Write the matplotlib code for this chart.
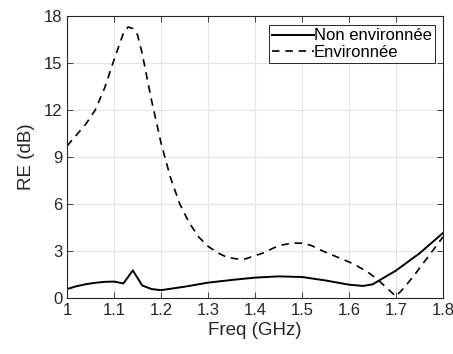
import numpy as np
import matplotlib
matplotlib.use("Agg")
import matplotlib.pyplot as plt

plt.rcParams['font.family'] = ['Liberation Sans', 'DejaVu Sans']

# Non environnée (solid)
freq_solid = [1.0, 1.02, 1.04, 1.06, 1.08, 1.1, 1.12, 1.14, 1.16, 1.18, 1.2,
              1.25, 1.3, 1.35, 1.4, 1.45, 1.5, 1.55, 1.6, 1.63, 1.65, 1.7,
              1.75, 1.8]
re_solid = [0.57, 0.75, 0.88, 0.97, 1.03, 1.05, 0.93, 1.76, 0.8, 0.57, 0.5,
            0.72, 0.98, 1.15, 1.3, 1.38, 1.34, 1.12, 0.85, 0.77, 0.87, 1.75,
            2.85, 4.15]

# Environnée (dashed)
freq_dash = [1.0, 1.02, 1.04, 1.06, 1.08, 1.1, 1.12, 1.13, 1.14, 1.15, 1.16,
             1.18, 1.2, 1.22, 1.24, 1.26, 1.28, 1.3, 1.32, 1.34, 1.36, 1.38,
             1.4, 1.42, 1.44, 1.46, 1.48, 1.5, 1.52, 1.54, 1.56, 1.58, 1.6,
             1.62, 1.64, 1.66, 1.68, 1.7, 1.72, 1.74, 1.76, 1.78, 1.8]
re_dash = [9.7, 10.4, 11.1, 12.0, 13.4, 15.2, 16.9, 17.3, 17.2, 16.8, 15.6,
           12.6, 9.9, 7.7, 6.0, 4.8, 3.9, 3.3, 2.9, 2.6, 2.5, 2.5,
           2.7, 2.9, 3.2, 3.4, 3.5, 3.5, 3.35, 3.05, 2.8, 2.55, 2.3,
           2.0, 1.65, 1.2, 0.65, 0.1, 0.75, 1.5, 2.3, 3.1, 3.9]

fig = plt.figure(figsize=(4.53, 3.54), dpi=100)
ax = fig.add_axes([67 / 453, 1 - 298 / 354, 376 / 453, 282 / 354])

ax.plot(freq_solid, re_solid, color="black", linewidth=1.4, linestyle="-",
        label="Non environnée")
ax.plot(freq_dash, re_dash, color="black", linewidth=1.2, linestyle=(0, (4.5, 3.5)),
        label="Environnée")

ax.set_xlim(1, 1.8)
ax.set_ylim(0, 18)
ax.set_xticks(np.arange(1, 1.81, 0.1))
ax.set_xticklabels(["1", "1.1", "1.2", "1.3", "1.4", "1.5", "1.6", "1.7", "1.8"])
ax.set_yticks(np.arange(0, 19, 3))
ax.tick_params(direction="in", top=True, right=True, labelsize=12,
               color="#262626", labelcolor="#262626", length=4, width=0.6)
for s in ax.spines.values():
    s.set_color("#262626")
    s.set_linewidth(0.8)
ax.grid(True, color="#e6e6e6", linewidth=0.8)
ax.set_axisbelow(True)

ax.set_xlabel("Freq (GHz)", fontsize=13.5, color="#262626", labelpad=3)
ax.set_ylabel("RE (dB)", fontsize=13.5, color="#262626", labelpad=6)

leg = ax.legend(loc="upper right", bbox_to_anchor=(0.9787, 0.968), fontsize=12,
                handlelength=2.5, handletextpad=0.0, borderpad=0.2,
                labelspacing=0.1, borderaxespad=0.0, fancybox=False,
                framealpha=1, edgecolor="#262626")
leg.get_frame().set_linewidth(0.7)

plt.savefig("out.png", dpi=100)
plt.close()
